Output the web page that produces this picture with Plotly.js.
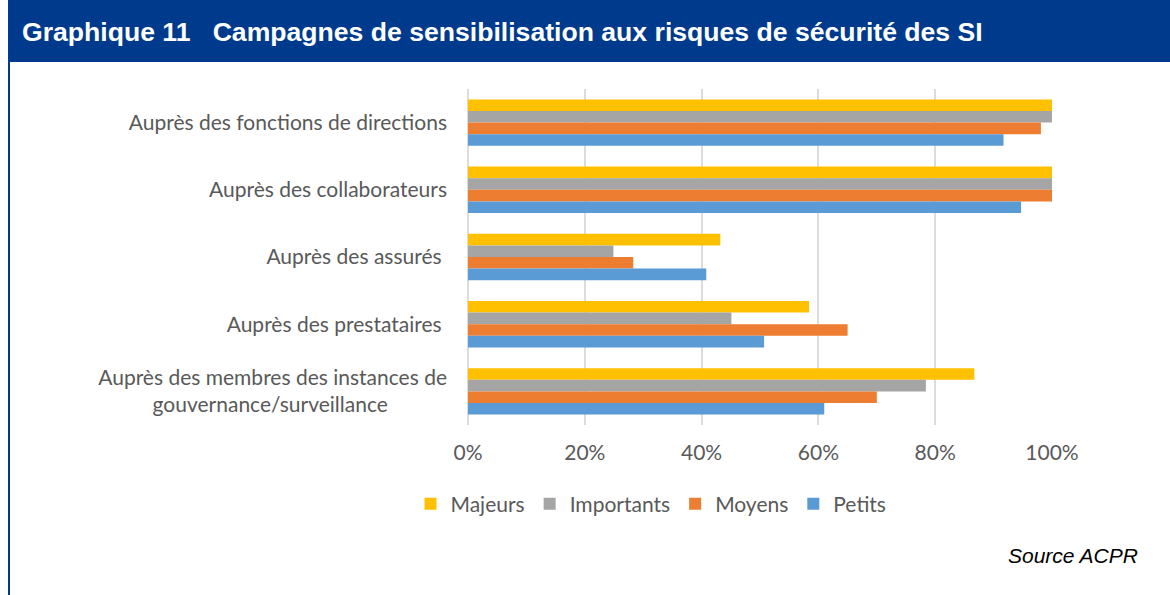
<!DOCTYPE html>
<html>
<head>
<meta charset="utf-8">
<script src="https://cdn.plot.ly/plotly-3.0.1.min.js"></script>
<style>
  html, body { margin: 0; padding: 0; background: #ffffff; }
  #chart { width: 1170px; height: 595px; }
</style>
</head>
<body>
<div id="chart"></div>
<script>
// ---- Data ----
const categories = [
  "Auprès des fonctions de directions",
  "Auprès des collaborateurs",
  "Auprès des assurés\u00a0",
  "Auprès des prestataires\u00a0",
  "Auprès des membres des instances de<br>gouvernance/surveillance\u00a0\u00a0\u00a0\u00a0\u00a0\u00a0\u00a0\u00a0\u00a0\u00a0\u00a0"
];
const seriesNames = ["Majeurs", "Importants", "Moyens", "Petits"];
const majeurs    = [1.00, 1.00, 0.432, 0.584, 0.867];
const importants = [1.00, 1.00, 0.249, 0.451, 0.784];
const moyens     = [0.981, 1.00, 0.283, 0.650, 0.700];
const petits     = [0.917, 0.947, 0.408, 0.507, 0.610];
const seriesValues = [majeurs, importants, moyens, petits];
const seriesColors = ["#FFC000", "#A5A5A5", "#ED7D31", "#5B9BD5"];
const xTickVals = [0, 0.2, 0.4, 0.6, 0.8, 1.0];
const xTickText = ["0%", "20%", "40%", "60%", "80%", "100%"];
const titleText = "Graphique 11   Campagnes de sensibilisation aux risques de sécurité des SI";
const sourceText = "Source ACPR";

// ---- Layout geometry (pixels) ----
const W = 1170, H = 595;
const M = { l: 468, r: 118, t: 89, b: 170 };
const plotW = W - M.l - M.r, plotH = H - M.t - M.b;
const px = x => (x - M.l) / plotW;          // pixel x -> paper x
const py = y => (H - M.b - y) / plotH;      // pixel y -> paper y
const headerBlue = "#003A8C";
const labelFont = { family: "Lato, 'Open Sans', sans-serif", size: 21, color: "#595959" };

const traces = seriesNames.map((name, i) => ({
  type: "bar",
  orientation: "h",
  name: name,
  y: categories,
  x: seriesValues[i],
  marker: { color: seriesColors[i], line: { width: 0 } },
  hoverinfo: "skip"
}));

const layout = {
  width: W, height: H,
  margin: M,
  paper_bgcolor: "#ffffff",
  plot_bgcolor: "#ffffff",
  barmode: "group",
  bargap: 0.31,
  bargroupgap: 0,
  showlegend: true,
  title: {
    text: "<b>" + titleText + "</b>",
    x: 22 / W, xanchor: "left", xref: "container",
    y: 1 - 32 / H, yanchor: "middle", yref: "container",
    font: { family: "'Liberation Sans', Arial, sans-serif", size: 26.6, color: "#ffffff" }
  },
  xaxis: {
    range: [0, 1.0],
    tickvals: xTickVals,
    ticktext: xTickText,
    showgrid: true,
    gridcolor: "#DCDCDC",
    gridwidth: 2,
    zeroline: true,
    zerolinecolor: "#DCDCDC",
    zerolinewidth: 2,
    showline: false,
    ticks: "",
    ticklabelstandoff: 13,
    tickfont: labelFont,
    fixedrange: true
  },
  yaxis: {
    type: "category",
    autorange: "reversed",
    showgrid: false,
    zeroline: false,
    showline: false,
    ticks: "",
    ticklabelstandoff: 20,
    tickfont: labelFont,
    fixedrange: true
  },
  legend: {
    orientation: "h",
    x: px(651), xanchor: "center",
    y: py(504), yanchor: "middle",
    traceorder: "normal",
    font: labelFont,
    itemwidth: 30,
    bgcolor: "rgba(0,0,0,0)"
  },
  shapes: [
    { type: "rect", xref: "paper", yref: "paper",
      x0: px(8), x1: px(1170), y0: py(62), y1: py(0),
      fillcolor: headerBlue, line: { width: 0 }, layer: "below" },
    { type: "line", xref: "paper", yref: "paper",
      x0: px(9), x1: px(9), y0: py(62), y1: py(595),
      line: { color: headerBlue, width: 2 } }
  ],
  annotations: [
    { text: "<i>" + sourceText + "</i>", xref: "paper", yref: "paper",
      x: px(1140), xanchor: "right", y: py(555), yanchor: "middle",
      showarrow: false,
      font: { family: "'Liberation Sans', Arial, sans-serif", size: 21, color: "#000000" } }
  ]
};

Plotly.newPlot("chart", traces, layout, { displayModeBar: false, staticPlot: true });
</script>
</body>
</html>
